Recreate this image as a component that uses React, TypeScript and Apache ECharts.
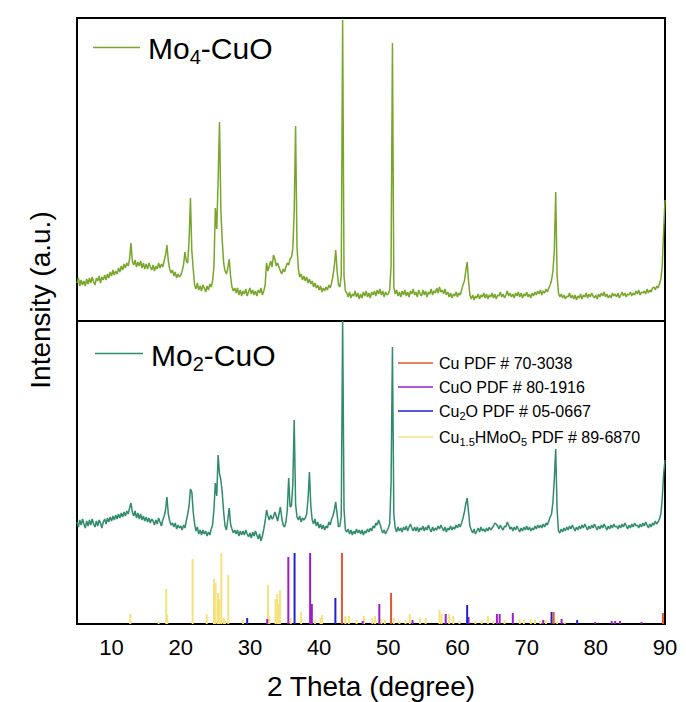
import React, { useEffect, useRef } from 'react';
import * as echarts from 'echarts';

// 2θ sampling grid of the digitised patterns (degrees)
const thetaStart = 5;
const thetaStep = 0.2;
const xTickValues = [10, 20, 30, 40, 50, 60, 70, 80, 90];

// Mo4-CuO intensity (a.u.), one value per 0.2°, 5° → 90°
const mo4CuO = [
  38,43,35,41,36, 40,35,42,37,43, 38,44,39,36,43, 40,45,38,44,41, 46,41,47,43,49,
  45,51,46,50,47, 53,49,55,51,57, 53,58,55,62,78, 60,56,61,54,59, 55,60,53,58,52,
  57,52,58,54,51, 56,50,55,52,58, 53,57,54,60,66, 76,60,52,48,51, 45,49,43,47,44,
  46,50,56,69,60, 58,80,123,70,52, 36,32,38,31,35, 30,36,33,29,35, 31,37,34,40,55,
  113,92,140,199,110, 80,58,50,47,53, 62,45,34,30,33, 28,33,26,31,25, 30,27,32,25,29,
  33,27,31,26,30, 25,31,28,33,26, 30,36,58,50,55, 60,54,66,62,55, 58,54,50,47,52,
  49,54,58,56,62, 64,72,110,195,75, 52,44,47,41,45, 40,44,38,42,37, 40,34,38,33,36,
  31,35,29,33,30, 34,31,36,33,38, 45,55,71,50,36, 34,45,301,45,30, 28,24,29,23,27,
  25,30,24,28,22, 27,23,29,25,30, 24,28,23,29,26, 30,25,31,27,32, 26,30,24,29,26,
  27,31,55,278,34, 27,31,25,29,24, 30,26,31,25,29, 24,30,27,32,26, 29,24,31,27,25,
  31,26,30,24,29, 27,32,26,30,28, 33,28,34,29,31, 27,32,26,29,24, 28,23,27,25,29,
  24,28,26,31,36, 40,50,59,40,26, 22,26,21,25,23, 27,22,26,24,28, 23,27,22,26,24,
  28,23,27,22,26, 25,29,24,27,23, 26,30,25,28,24, 27,23,28,25,29, 24,28,23,27,25,
  29,24,27,23,28, 25,29,26,30,27, 31,26,30,28,32, 29,33,36,41,50, 70,129,45,28,24,
  27,23,26,22,25, 24,28,23,26,22, 26,21,25,23,27, 22,26,24,28,23, 27,24,28,25,23,
  26,22,27,24,28, 25,29,24,27,23, 26,23,28,25,27, 24,28,23,26,29, 25,28,24,27,26,
  29,25,28,26,30, 27,31,26,29,28, 30,27,32,28,31, 29,33,34,31,35, 33,37,42,55,90,
  121
];

// Mo2-CuO intensity (a.u.), one value per 0.2°, 5° → 90°
const mo2CuO = [
  102,97,104,99,105, 100,96,103,98,104, 99,105,100,97,103, 98,104,101,96,102, 105,100,106,102,107,
  103,108,104,109,105, 110,106,111,107,112, 108,113,110,116,121, 112,108,113,106,111, 105,110,104,108,103,
  107,102,106,101,105, 103,99,104,100,106, 102,98,104,108,114, 127,110,103,99,101, 97,101,95,99,96,
  98,94,99,96,103, 110,118,135,132,112, 100,93,97,90,94, 89,94,90,93,88, 92,89,95,99,115,
  141,128,169,150,144, 131,112,98,94,104, 116,100,95,91,94, 90,94,88,93,89, 93,89,94,90,87,
  91,86,92,88,93, 89,85,90,83,88, 95,103,114,108,104, 109,105,107,112,108, 103,110,117,106,99,
  97,102,114,146,117, 118,140,204,120,107, 104,108,102,106,104, 106,110,125,152,118, 104,100,105,98,102,
  96,100,95,99,94, 98,96,102,99,105, 108,114,122,110,97, 98,108,303,115,94, 92,95,90,94,89,
  93,90,95,91,94, 90,94,89,93,91, 95,92,96,93,98, 96,101,99,104,100, 95,91,94,90,93,
  96,100,140,277,110, 96,92,97,93,96, 92,97,94,98,93, 97,100,96,93,97, 93,97,92,96,94,
  98,93,97,94,99, 95,92,97,93,96, 94,98,95,99,96, 93,97,92,96,94, 98,94,97,95,99,
  96,100,97,101,106, 112,120,126,112,98, 94,91,95,90,93, 96,92,97,93,95, 92,96,93,97,94,
  96,98,101,100,98, 95,99,96,94,98, 97,102,99,95,97, 93,97,94,98,95, 92,96,93,97,94,
  98,94,97,93,96, 94,98,95,99,96, 99,96,100,97,101, 99,103,107,110,122, 145,175,115,93,91,
  95,92,96,93,97, 94,98,95,99,96, 93,97,94,98,95, 99,96,100,97,94, 98,95,99,96,100,
  97,94,98,95,99, 96,100,97,94,98, 95,99,96,100,97, 98,95,99,96,100, 97,101,98,95,99,
  96,100,97,101,98, 99,96,100,97,101, 98,102,99,96,100, 97,101,99,103,100, 102,105,110,125,150,
  164
];

// Reference patterns: [2θ, relative stick height]
const cuPdf = [[43.3, 71], [50.4, 31], [73.9, 12], [89.7, 11]];
const cuoPdf = [
  [32.5, 5], [35.55, 67], [38.7, 71], [38.95, 20], [46.3, 3], [48.7, 20], [53.5, 4], [58.3, 10],
  [61.6, 7], [65.7, 10], [66.1, 10], [68.0, 11], [72.4, 4], [75.05, 5], [79.9, 2], [82.3, 3],
  [82.8, 3], [83.5, 3], [86.6, 2]
];
const cu2oPdf = [[29.6, 6], [36.45, 71], [42.35, 26], [61.4, 19], [73.6, 12], [77.3, 4]];
const hmoPdf = [
  [12.7, 10], [16.8, 2], [17.9, 35], [18.05, 9], [21.72, 65], [23.75, 10], [24.8, 45], [25.03, 41],
  [25.38, 31], [25.57, 25], [25.86, 71], [26.2, 6], [26.4, 4], [26.87, 49], [29.0, 4], [32.6, 39],
  [32.8, 8], [33.7, 25], [33.95, 30], [34.1, 20], [34.35, 34], [35.9, 6], [37.4, 12], [39.4, 4],
  [40.2, 6], [40.4, 9], [43.8, 8], [44.3, 8], [45.4, 4], [46.5, 8], [47.7, 6], [48.1, 8], [49.0, 5],
  [49.5, 4], [50.8, 6], [51.6, 3], [52.5, 4], [53.1, 10], [54.6, 6], [55.4, 6], [57.4, 14], [57.7, 10],
  [58.8, 10], [59.4, 8], [60.3, 3], [62.6, 3], [63.5, 4], [64.4, 8], [65.2, 3], [66.8, 4], [69.0, 5],
  [69.6, 4], [70.6, 5], [71.2, 4], [72.0, 3], [72.8, 4], [74.4, 3], [75.5, 2]
];

const legendRefs = [
  { label: 'Cu PDF # 70-3038', color: '#e4572e' },
  { label: 'CuO PDF # 80-1916', color: '#9b1fc9' },
  { label: 'Cu{s|2}O PDF # 05-0667', color: '#2222cc' },
  { label: 'Cu{s|1.5}HMoO{s|5} PDF # 89-6870', color: '#f5e27c' }
];

const FONT = '"Liberation Sans", Arial, Helvetica, sans-serif';
const MO4_COLOR = '#78a62a';
const MO2_COLOR = '#2f8a6e';

const toPairs = (vals: number[]) =>
  vals.map((v, i) => [Math.round((thetaStart + i * thetaStep) * 100) / 100, v]);

const stickSeries = (name: string, data: number[][], color: string) => ({
  name,
  type: 'custom',
  xAxisIndex: 1,
  yAxisIndex: 1,
  data,
  clip: true,
  renderItem: (params: any, api: any) => {
    const x = api.value(0);
    const h = api.value(1);
    const p0 = api.coord([x, 0]);
    const p1 = api.coord([x, h]);
    return {
      type: 'rect',
      shape: { x: p0[0] - 1, y: p1[1], width: 2, height: p0[1] - p1[1] },
      style: { fill: color }
    };
  }
});

export default function App() {
  const ref = useRef<HTMLDivElement>(null);
  useEffect(() => {
    if (!ref.current) return;
    const chart = echarts.init(ref.current, null, { renderer: 'svg' });
    const gridLeft = 77;
    const gridWidth = 588;
    const xAxisBase = {
      type: 'value',
      min: 5,
      max: 90,
      axisLine: { show: false },
      axisTick: { show: false },
      splitLine: { show: false }
    };
    const graphic: any[] = [
      {
        type: 'line',
        shape: { x1: 93, y1: 47.5, x2: 140, y2: 47.5 },
        style: { stroke: MO4_COLOR, lineWidth: 1.5 }
      },
      {
        type: 'text',
        x: 148,
        y: 48,
        style: {
          text: 'Mo{s|4}-CuO',
          fontSize: 30,
          fontFamily: FONT,
          fill: '#000',
          lineHeight: 38,
          verticalAlign: 'middle',
          rich: { s: { fontSize: 20, lineHeight: 20, verticalAlign: 'bottom', fontFamily: FONT, fill: '#000' } }
        }
      },
      {
        type: 'line',
        shape: { x1: 95, y1: 353.5, x2: 143, y2: 353.5 },
        style: { stroke: MO2_COLOR, lineWidth: 1.5 }
      },
      {
        type: 'text',
        x: 151,
        y: 355,
        style: {
          text: 'Mo{s|2}-CuO',
          fontSize: 30,
          fontFamily: FONT,
          fill: '#000',
          lineHeight: 38,
          verticalAlign: 'middle',
          rich: { s: { fontSize: 20, lineHeight: 20, verticalAlign: 'bottom', fontFamily: FONT, fill: '#000' } }
        }
      },
      {
        type: 'text',
        x: 371,
        y: 686,
        style: {
          text: '2 Theta (degree)',
          fontSize: 28,
          fontFamily: FONT,
          fill: '#000',
          align: 'center',
          verticalAlign: 'middle'
        }
      },
      {
        type: 'text',
        x: 40,
        y: 300,
        rotation: Math.PI / 2,
        style: {
          text: 'Intensity (a.u.)',
          fontSize: 28,
          fontFamily: FONT,
          fill: '#000',
          align: 'center',
          verticalAlign: 'middle'
        }
      }
    ];
    const legendY = [363, 387, 411, 437];
    legendRefs.forEach((item, i) => {
      graphic.push({
        type: 'line',
        shape: { x1: 398, y1: legendY[i], x2: 433, y2: legendY[i] },
        style: { stroke: item.color, lineWidth: 1.5 }
      });
      graphic.push({
        type: 'text',
        x: 439,
        y: legendY[i],
        style: {
          text: item.label,
          fontSize: 16,
          fontFamily: FONT,
          fill: '#000',
          lineHeight: 21,
          verticalAlign: 'middle',
          rich: { s: { fontSize: 11, lineHeight: 11, verticalAlign: 'bottom', fontFamily: FONT, fill: '#000' } }
        }
      });
    });

    chart.setOption({
      animation: false,
      backgroundColor: '#ffffff',
      grid: [
        { left: gridLeft, width: gridWidth, top: 18, height: 303, show: true, borderColor: '#000', borderWidth: 2, backgroundColor: 'transparent' },
        { left: gridLeft, width: gridWidth, top: 321, height: 303, show: true, borderColor: '#000', borderWidth: 2, backgroundColor: 'transparent' }
      ],
      xAxis: [
        { ...xAxisBase, gridIndex: 0, axisLabel: { show: false } },
        {
          ...xAxisBase,
          gridIndex: 1,
          axisLabel: {
            show: true,
            customValues: xTickValues,
            fontSize: 22,
            fontFamily: FONT,
            color: '#000',
            margin: 12
          }
        }
      ],
      yAxis: [
        { type: 'value', gridIndex: 0, min: 0, max: 303, show: false },
        { type: 'value', gridIndex: 1, min: 0, max: 303, show: false }
      ],
      series: [
        {
          name: 'Mo4-CuO',
          type: 'line',
          xAxisIndex: 0,
          yAxisIndex: 0,
          data: toPairs(mo4CuO),
          showSymbol: false,
          lineStyle: { color: MO4_COLOR, width: 1.5 },
          itemStyle: { color: MO4_COLOR }
        },
        stickSeries('Cu1.5HMoO5 PDF # 89-6870', hmoPdf, '#f5e27c'),
        stickSeries('CuO PDF # 80-1916', cuoPdf, '#9b1fc9'),
        stickSeries('Cu2O PDF # 05-0667', cu2oPdf, '#2222cc'),
        stickSeries('Cu PDF # 70-3038', cuPdf, '#e4572e'),
        {
          name: 'Mo2-CuO',
          type: 'line',
          xAxisIndex: 1,
          yAxisIndex: 1,
          data: toPairs(mo2CuO),
          showSymbol: false,
          lineStyle: { color: MO2_COLOR, width: 1.5 },
          itemStyle: { color: MO2_COLOR }
        }
      ],
      graphic
    });
    return () => chart.dispose();
  }, []);
  return (
    <div
      ref={ref}
      style={{ position: 'absolute', left: 0, top: 0, width: 686, height: 702 }}
    />
  );
}
